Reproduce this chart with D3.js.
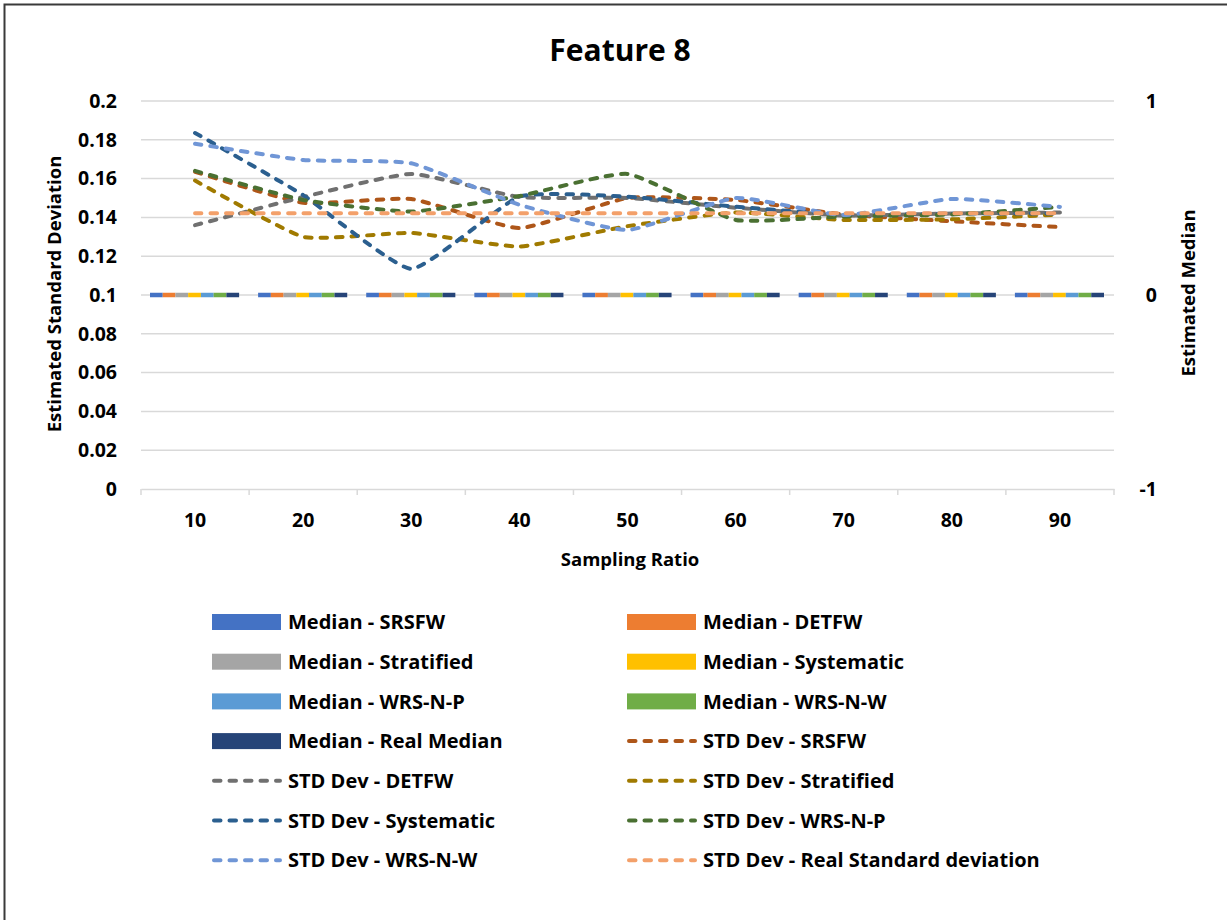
<!DOCTYPE html>
<html>
<head>
<meta charset="utf-8">
<script src="https://cdn.jsdelivr.net/npm/d3@7"></script>
<style>
  body { margin: 0; background: #fff; }
  svg { display: block; }
  text { font-family: "Open Sans", sans-serif; font-weight: 700; fill: #000; }
</style>
</head>
<body>
<svg id="chart" width="1227" height="920"></svg>
<script>
// Sampling ratios on the x axis
const categories = ["10", "20", "30", "40", "50", "60", "70", "80", "90"];

// Estimated medians (secondary axis, drawn as clustered bars)
const medianSRSFW      = [0, 0, 0, 0, 0, 0, 0, 0, 0];
const medianDETFW      = [0, 0, 0, 0, 0, 0, 0, 0, 0];
const medianStratified = [0, 0, 0, 0, 0, 0, 0, 0, 0];
const medianSystematic = [0, 0, 0, 0, 0, 0, 0, 0, 0];
const medianWRSNP      = [0, 0, 0, 0, 0, 0, 0, 0, 0];
const medianWRSNW      = [0, 0, 0, 0, 0, 0, 0, 0, 0];
const medianReal       = [0, 0, 0, 0, 0, 0, 0, 0, 0];

// Estimated standard deviations (primary axis, dashed lines)
const stdSRSFW      = [0.1635, 0.1475, 0.1495, 0.1345, 0.1500, 0.1490, 0.1415, 0.1380, 0.1350];
const stdDETFW      = [0.1360, 0.1505, 0.1624, 0.1505, 0.1500, 0.1450, 0.1410, 0.1420, 0.1425];
const stdStratified = [0.1590, 0.1300, 0.1320, 0.1250, 0.1355, 0.1425, 0.1387, 0.1390, 0.1415];
const stdSystematic = [0.1835, 0.1515, 0.1135, 0.1507, 0.1507, 0.1455, 0.1415, 0.1420, 0.1420];
const stdWRSNP      = [0.1640, 0.1490, 0.1430, 0.1510, 0.1624, 0.1387, 0.1405, 0.1415, 0.1454];
const stdWRSNW      = [0.1780, 0.1696, 0.1679, 0.1465, 0.1335, 0.1500, 0.1412, 0.1495, 0.1454];
const stdReal       = [0.1422, 0.1422, 0.1422, 0.1422, 0.1422, 0.1422, 0.1422, 0.1422, 0.1422];

// Axis tick labels
const leftTicks  = [0, 0.02, 0.04, 0.06, 0.08, 0.1, 0.12, 0.14, 0.16, 0.18, 0.2];
const rightTicks = [-1, 0, 1];

const barSeries = [
  { name: "Median - SRSFW",      values: medianSRSFW,      color: "#4472C4" },
  { name: "Median - DETFW",      values: medianDETFW,      color: "#ED7D31" },
  { name: "Median - Stratified", values: medianStratified, color: "#A5A5A5" },
  { name: "Median - Systematic", values: medianSystematic, color: "#FFC000" },
  { name: "Median - WRS-N-P",    values: medianWRSNP,      color: "#5B9BD5" },
  { name: "Median - WRS-N-W",    values: medianWRSNW,      color: "#70AD47" },
  { name: "Median - Real Median", values: medianReal,      color: "#264478" }
];
const lineSeries = [
  { name: "STD Dev - SRSFW",      values: stdSRSFW,      color: "#AE5619" },
  { name: "STD Dev - DETFW",      values: stdDETFW,      color: "#707070" },
  { name: "STD Dev - Stratified", values: stdStratified, color: "#A07A00" },
  { name: "STD Dev - Systematic", values: stdSystematic, color: "#2B5F8F" },
  { name: "STD Dev - WRS-N-P",    values: stdWRSNP,      color: "#4A7032" },
  { name: "STD Dev - WRS-N-W",    values: stdWRSNW,      color: "#7096D6" },
  { name: "STD Dev - Real Standard deviation", values: stdReal, color: "#F3A06A" }
];

const svg = d3.select("#chart");
const plot = { left: 141, right: 1114, top: 101, bottom: 489 };
const tickFont = 19.5;
const dash = "6.5,9";

// Outer frame
svg.append("path")
  .attr("d", "M4.5,930V4.5H1240")
  .attr("fill", "none").attr("stroke", "#3a3a3a").attr("stroke-width", 2);

const x = d3.scaleBand().domain(categories).range([plot.left, plot.right]).padding(0);
const xInner = d3.scaleBand().domain(barSeries.map(d => d.name))
  .range([9, x.bandwidth() - 10]).padding(0);
const yL = d3.scaleLinear().domain([0, 0.2]).range([plot.bottom, plot.top]);
const yR = d3.scaleLinear().domain([-1, 1]).range([plot.bottom, plot.top]);

// Horizontal gridlines
svg.append("g").selectAll("line")
  .data(leftTicks.filter(t => t > 0))
  .join("line")
  .attr("x1", plot.left).attr("x2", plot.right)
  .attr("y1", d => yL(d)).attr("y2", d => yL(d))
  .attr("stroke", "#D9D9D9").attr("stroke-width", 1.5);

function styleTicks(g) {
  g.selectAll(".tick text")
    .attr("font-size", tickFont).attr("font-family", "Open Sans")
    .attr("font-weight", 700).attr("fill", "#000");
}

// Bottom axis: baseline and category dividers
const gx = svg.append("g").attr("transform", `translate(0,${plot.bottom})`)
  .call(d3.axisBottom(x).tickSize(0).tickPadding(24));
gx.select(".domain").attr("stroke", "#D9D9D9").attr("stroke-width", 1.5);
styleTicks(gx);
const dividers = categories.map(c => x(c)).concat([plot.right]);
gx.selectAll("line.div").data(dividers).join("line").attr("class", "div")
  .attr("x1", d => d).attr("x2", d => d).attr("y1", 0).attr("y2", 6)
  .attr("stroke", "#D9D9D9").attr("stroke-width", 1.5);

// Left axis labels
const gyL = svg.append("g").attr("transform", `translate(${plot.left},0)`)
  .call(d3.axisLeft(yL).tickValues(leftTicks).tickSize(0).tickPadding(24).tickFormat(d => String(d)));
gyL.select(".domain").remove();
styleTicks(gyL);

// Right axis labels, right-aligned
const gyR = svg.append("g").attr("transform", `translate(${plot.right},0)`)
  .call(d3.axisRight(yR).tickValues(rightTicks).tickSize(0).tickPadding(43).tickFormat(d => String(d)));
gyR.select(".domain").remove();
styleTicks(gyR);
gyR.selectAll(".tick text").attr("text-anchor", "end");

// Median bars; a zero-height bar still shows its outline
const barData = [];
barSeries.forEach(s => s.values.forEach((v, i) => barData.push({ s, cat: categories[i], v })));
svg.append("g").selectAll("path")
  .data(barData)
  .join("path")
  .attr("d", d => {
    const x0 = x(d.cat) + xInner(d.s.name), x1 = x0 + xInner.bandwidth();
    const y0 = yR(0), y1 = yR(d.v);
    return `M${x0},${y0}V${y1}H${x1}V${y0}Z`;
  })
  .attr("fill", d => d.s.color)
  .attr("stroke", d => d.s.color)
  .attr("stroke-width", 4.5);

// Standard deviation lines
const line = d3.line()
  .x((d, i) => x(categories[i]) + x.bandwidth() / 2)
  .y(d => yL(d))
  .curve(d3.curveCardinal.tension(0.55));
svg.append("g").selectAll("path")
  .data(lineSeries)
  .join("path")
  .attr("d", d => line(d.values))
  .attr("fill", "none")
  .attr("stroke", d => d.color)
  .attr("stroke-width", 4)
  .attr("stroke-dasharray", dash)
  .attr("stroke-linecap", "round");

// Titles
svg.append("text").attr("x", 620).attr("y", 61).attr("text-anchor", "middle")
  .attr("font-size", 30).text("Feature 8");
svg.append("text").attr("x", 630).attr("y", 566).attr("text-anchor", "middle")
  .attr("font-size", 18.5).text("Sampling Ratio");
svg.append("text").attr("transform", "translate(61,294) rotate(-90)").attr("text-anchor", "middle")
  .attr("font-size", 18.5).text("Estimated Standard Deviation");
svg.append("text").attr("transform", "translate(1195,293) rotate(-90)").attr("text-anchor", "middle")
  .attr("font-size", 18.5).text("Estimated Median");

// Legend: two columns, row-major order
const legendItems = barSeries.map(s => ({ ...s, kind: "bar" }))
  .concat(lineSeries.map(s => ({ ...s, kind: "line" })));
const legendCols = [212, 627];
const legendRow0 = 622, legendRowStep = 39.7;
const lg = svg.append("g").selectAll("g")
  .data(legendItems)
  .join("g")
  .attr("transform", (d, i) => `translate(${legendCols[i % 2]},${legendRow0 + Math.floor(i / 2) * legendRowStep})`);
lg.filter(d => d.kind === "bar").append("rect")
  .attr("x", 0).attr("y", -8).attr("width", 69).attr("height", 16)
  .attr("fill", d => d.color);
lg.filter(d => d.kind === "line").append("line")
  .attr("x1", 2).attr("x2", 68).attr("y1", 0).attr("y2", 0)
  .attr("stroke", d => d.color).attr("stroke-width", 4)
  .attr("stroke-dasharray", dash).attr("stroke-linecap", "round");
lg.append("text").attr("x", 76).attr("y", 0).attr("dy", "0.36em")
  .attr("font-size", 20).text(d => d.name);
</script>
</body>
</html>
